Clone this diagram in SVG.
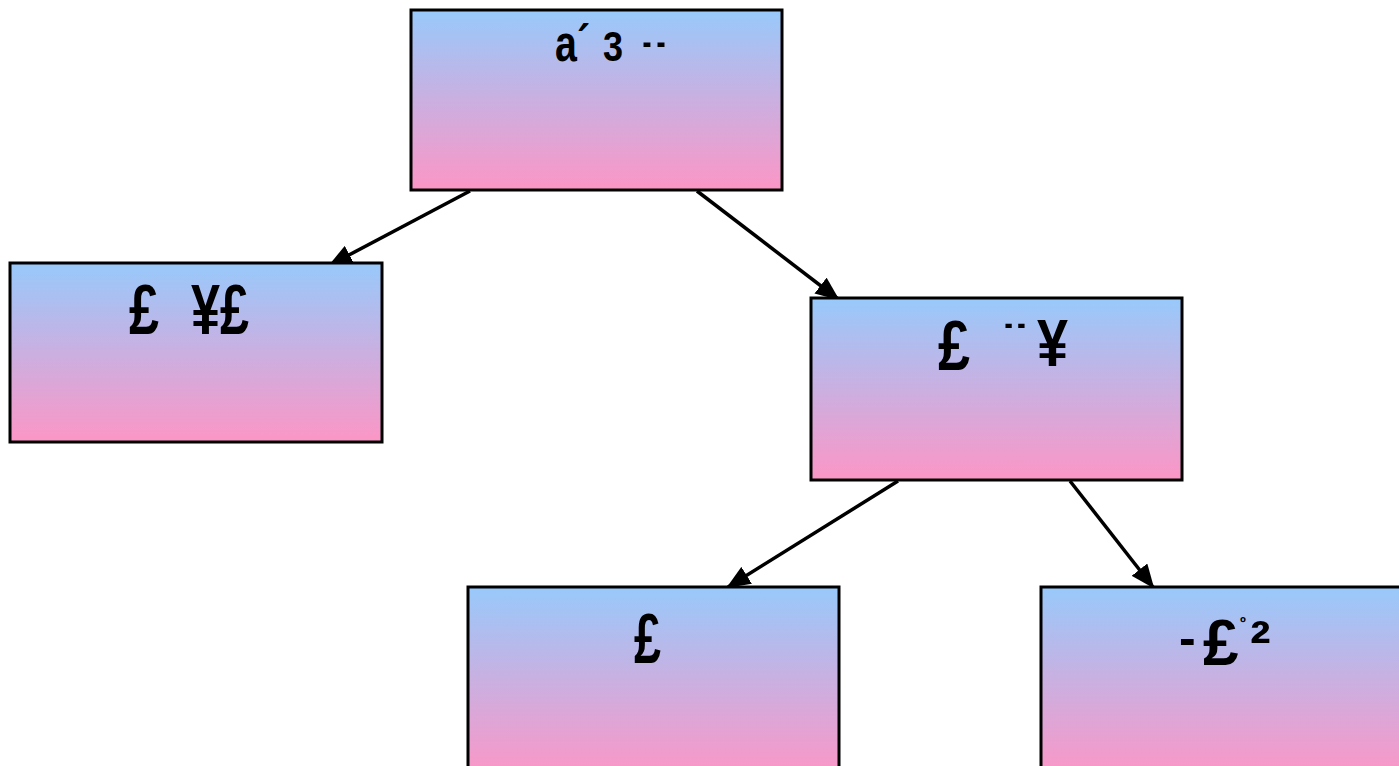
<svg xmlns="http://www.w3.org/2000/svg" width="1399" height="766" viewBox="0 0 1399 766">
<defs>
<linearGradient id="g" x1="0" y1="0" x2="0" y2="1">
<stop offset="0" stop-color="#98c9fb"/>
<stop offset="1" stop-color="#fc96c6"/>
</linearGradient>
<style>
.box{fill:url(#g);stroke:#000;stroke-width:3}
.t{font-family:"Liberation Sans",Arial,sans-serif;font-weight:bold;fill:#000}
.c{stroke:#000;stroke-width:3.5;fill:none}
</style>
<marker id="a" viewBox="0 0 24 20" refX="22" refY="10" markerWidth="24" markerHeight="20" markerUnits="userSpaceOnUse" orient="auto">
<path d="M0,0 L24,10 L0,20 z" fill="#000"/>
</marker>
</defs>
<g id="connectors">
<line class="c" x1="470" y1="191" x2="330" y2="265" marker-end="url(#a)"/>
<line class="c" x1="697" y1="191" x2="838" y2="299" marker-end="url(#a)"/>
<line class="c" x1="898" y1="481" x2="728" y2="587" marker-end="url(#a)"/>
<line class="c" x1="1070" y1="481" x2="1153" y2="587" marker-end="url(#a)"/>
</g>
<g id="n1"><rect class="box" x="411" y="10" width="371" height="180"/>
<text class="t" font-size="52" x="555" y="61" textLength="35" lengthAdjust="spacingAndGlyphs">a´</text>
<text class="t" font-size="42" x="603" y="61" textLength="20" lengthAdjust="spacingAndGlyphs">3</text>
<text class="t" font-size="42" x="643" y="72" textLength="22" lengthAdjust="spacingAndGlyphs">¨</text>
</g>
<g id="n2"><rect class="box" x="10" y="263" width="372" height="179"/>
<text class="t" font-size="70" x="129" y="334" textLength="30" lengthAdjust="spacingAndGlyphs">£</text>
<text class="t" font-size="70" x="191" y="334" textLength="58" lengthAdjust="spacingAndGlyphs">¥£</text>
</g>
<g id="n3"><rect class="box" x="811" y="298" width="371" height="182"/>
<text class="t" font-size="70" x="938" y="370" textLength="32" lengthAdjust="spacingAndGlyphs">£</text>
<text class="t" font-size="40" x="1005" y="352" textLength="20" lengthAdjust="spacingAndGlyphs">¨</text>
<text class="t" font-size="66" x="1037" y="366" textLength="31" lengthAdjust="spacingAndGlyphs">¥</text>
</g>
<g id="n4"><rect class="box" x="468" y="587" width="371" height="190"/>
<text class="t" font-size="70" x="634" y="663" textLength="27" lengthAdjust="spacingAndGlyphs">£</text>
</g>
<g id="n5"><rect class="box" x="1041" y="587" width="371" height="190"/>
<text class="t"><tspan font-size="50" x="1179" y="655">-</tspan><tspan font-size="64" x="1203" y="665">£</tspan><tspan font-size="16" x="1240" y="628">º</tspan><tspan font-size="62" x="1250" y="664">²</tspan></text>
</g>
</svg>
